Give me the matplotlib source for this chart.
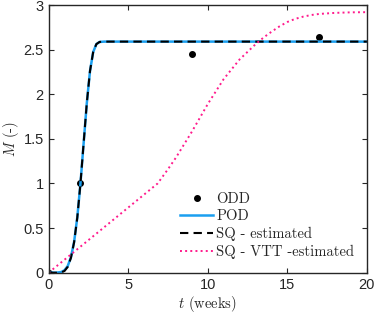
import matplotlib
matplotlib.use("Agg")
import matplotlib.pyplot as plt

# ODD observations
odd_t = [0, 2, 9, 17]
odd_m = [0, 1.0, 2.45, 2.645]

# POD curve
pod_t = [0, 0.5, 0.8, 1.0, 1.2, 1.4, 1.6, 1.8, 2.0, 2.2, 2.4, 2.6, 2.8, 3.0, 3.2, 3.5, 4.0, 5, 10, 15, 20]
pod_m = [0, 0.001, 0.008, 0.028, 0.075, 0.171, 0.344, 0.618, 0.998, 1.451, 1.902, 2.260, 2.473, 2.562, 2.586, 2.59, 2.59, 2.59, 2.59, 2.59, 2.59]

# SQ - estimated
sq_t = [0, 0.5, 0.8, 1.0, 1.2, 1.4, 1.6, 1.8, 2.0, 2.2, 2.4, 2.6, 2.8, 3.0, 3.2, 3.5, 4.0, 5, 10, 15, 20]
sq_m = [0, 0.0, 0.004, 0.02, 0.065, 0.165, 0.34, 0.615, 0.998, 1.451, 1.902, 2.260, 2.473, 2.562, 2.586, 2.59, 2.59, 2.59, 2.59, 2.59, 2.59]

# SQ - VTT - estimated
vtt_t = [0, 6.85, 7.5, 8, 9, 10, 11, 12, 13, 13.5, 14, 14.5, 15, 15.5, 16, 16.5, 17, 18, 19, 20]
vtt_m = [0, 1.0, 1.16, 1.29, 1.58, 1.89, 2.17, 2.39, 2.56, 2.635, 2.70, 2.76, 2.81, 2.845, 2.87, 2.888, 2.90, 2.912, 2.918, 2.92]

xticks = [0, 5, 10, 15, 20]
yticks = [0, 0.5, 1, 1.5, 2, 2.5, 3]
ytick_labels = ["0", "0.5", "1", "1.5", "2", "2.5", "3"]

plt.rcParams['mathtext.fontset'] = 'cm'
plt.rcParams['font.family'] = ['Liberation Sans', 'DejaVu Sans']

fig = plt.figure(figsize=(3.74, 3.14), dpi=100)
ax = fig.add_axes([0.130, 0.1315, 0.851, 0.8525])

axc = '#262626'
ax.plot(odd_t, odd_m, 'o', color='black', markersize=4, label='ODD')
ax.plot(pod_t, pod_m, '-', color='#1a9ff0', linewidth=1.8, label='POD')
ax.plot(sq_t, sq_m, '--', color='black', linewidth=1.5, dashes=(4, 2.5), label='SQ - estimated')
ax.plot(vtt_t, vtt_m, ':', color='#ff1a8c', linewidth=1.4, label='SQ - VTT -estimated')

ax.set_xlim(0, 20)
ax.set_ylim(0, 3)
ax.set_xticks(xticks)
ax.set_yticks(yticks)
ax.set_yticklabels(ytick_labels)
ax.tick_params(direction='in', length=3.5, width=0.8, colors=axc, labelsize=10.5,
               top=True, right=True, labelcolor=axc)
for s in ax.spines.values():
    s.set_color(axc)
    s.set_linewidth(1.0)

ax.set_xlabel(r'$t$ (weeks)', fontfamily='cmr10', fontsize=10.5, color=axc, labelpad=2)
ax.set_ylabel(r'$M$ (-)', fontfamily='cmr10', fontsize=10.5, color=axc, labelpad=2)

leg = ax.legend(loc='upper left', bbox_to_anchor=(0.4125, 0.300), frameon=False,
                borderpad=0, borderaxespad=0, handlelength=2.3, handletextpad=0.2,
                labelspacing=0.25, prop={'family': 'cmr10', 'size': 10.5})
for t in leg.get_texts():
    t.set_color(axc)

fig.savefig('out.png', dpi=100)
